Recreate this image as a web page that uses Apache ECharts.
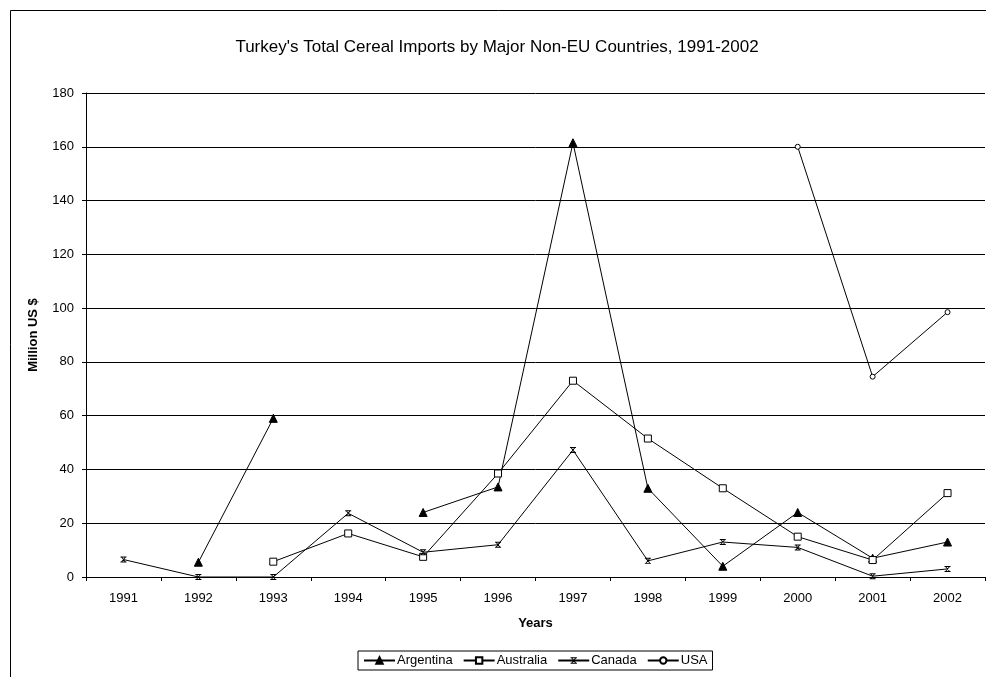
<!DOCTYPE html>
<html><head><meta charset="utf-8">
<script src="https://cdn.jsdelivr.net/npm/echarts@6/dist/echarts.min.js"></script>
<style>html,body{margin:0;padding:0;background:#fff}#c{width:986px;height:677px}</style>
</head><body><div id="c"></div>
<script>
const years = ['1991','1992','1993','1994','1995','1996','1997','1998','1999','2000','2001','2002'];
const argentina = [null, 5.5, 59, null, 24, 33.5, 161.5, 33, 4, 24, 7, 13];
const australia = [null, null, 5.7, 16.2, 7.5, 38.5, 73, 51.5, 33, 15, 6.3, 31.2];
const canada = [6.5, 0, 0, 23.7, 9.2, 12, 47.2, 6, 13, 11, 0.3, 3];
const usa = [null, null, null, null, null, null, null, null, null, 160, 74.5, 98.5];
const yTicks = [0, 20, 40, 60, 80, 100, 120, 140, 160, 180];

const font = 'Liberation Sans, Arial, sans-serif';
const chart = echarts.init(document.getElementById('c'), null, {renderer: 'canvas'});
const xMark = 'path://M0,0L10,0L10,1.6L0,1.6ZM0,8.4L10,8.4L10,10L0,10ZM0,0L1.8,0L10,10L8.2,10ZM8.2,0L10,0L1.8,10L0,10Z';
function ser(name, data, symbol, size, fill, bw) {
  return {
    name, type: 'line', data, symbol, symbolSize: size, showAllSymbol: true,
    lineStyle: {color: '#000', width: 1},
    itemStyle: {color: fill, borderColor: '#000', borderWidth: bw},
    emphasis: {disabled: true}, animation: false
  };
}
chart.setOption({
  animation: false,
  graphic: [{type: 'rect', shape: {x: 10.5, y: 10.5, width: 1000, height: 700}, style: {fill: 'none', stroke: '#000', lineWidth: 1}, silent: true, z: -1}],
  title: {text: "Turkey's Total Cereal Imports by Major Non-EU Countries, 1991-2002", left: 492, textAlign: 'center', top: 34,
    textStyle: {fontFamily: font, fontSize: 17, fontWeight: 'normal', color: '#000'}},
  grid: {left: 86, right: 1, top: 93, bottom: 100, containLabel: false},
  legend: {top: 651, left: 358, data: ['Argentina','Australia','Canada','USA'],
    borderColor: '#000', borderWidth: 1, borderRadius: 0, padding: [3, 5, 3, 5], itemGap: 10, itemWidth: 31, itemHeight: 8,
    textStyle: {fontFamily: font, fontSize: 13, color: '#000', padding: [0,0,0,-3]}},
  xAxis: {type: 'category', data: years, boundaryGap: true, name: 'Years', nameLocation: 'middle', nameGap: 40,
    nameTextStyle: {fontFamily: font, fontSize: 13, fontWeight: 'bold', color: '#000'},
    axisLine: {lineStyle: {color: '#000', width: 1}}, axisTick: {show: true, length: 4, alignWithLabel: false, lineStyle: {color: '#000'}},
    axisLabel: {fontFamily: font, fontSize: 13, color: '#000', margin: 15}},
  yAxis: {type: 'value', min: 0, max: 180, interval: 20, name: 'Million US $', nameLocation: 'middle', nameGap: 46,
    nameTextStyle: {fontFamily: font, fontSize: 13, fontWeight: 'bold', color: '#000'},
    axisLine: {show: true, lineStyle: {color: '#000', width: 1}}, axisTick: {show: true, length: 4, lineStyle: {color: '#000'}},
    axisLabel: {fontFamily: font, fontSize: 13, color: '#000', margin: 12, formatter: v => yTicks.includes(v) ? String(v) : ''},
    splitLine: {show: true, lineStyle: {color: '#000', width: 1}}},
  series: [
    ser('Argentina', argentina, 'triangle', 8, '#000', 1),
    ser('Australia', australia, 'rect', 7, '#fff', 1),
    ser('Canada', canada, xMark, 6, '#000', 0),
    ser('USA', usa, 'circle', 5, '#fff', 1)
  ]
});
</script></body></html>
